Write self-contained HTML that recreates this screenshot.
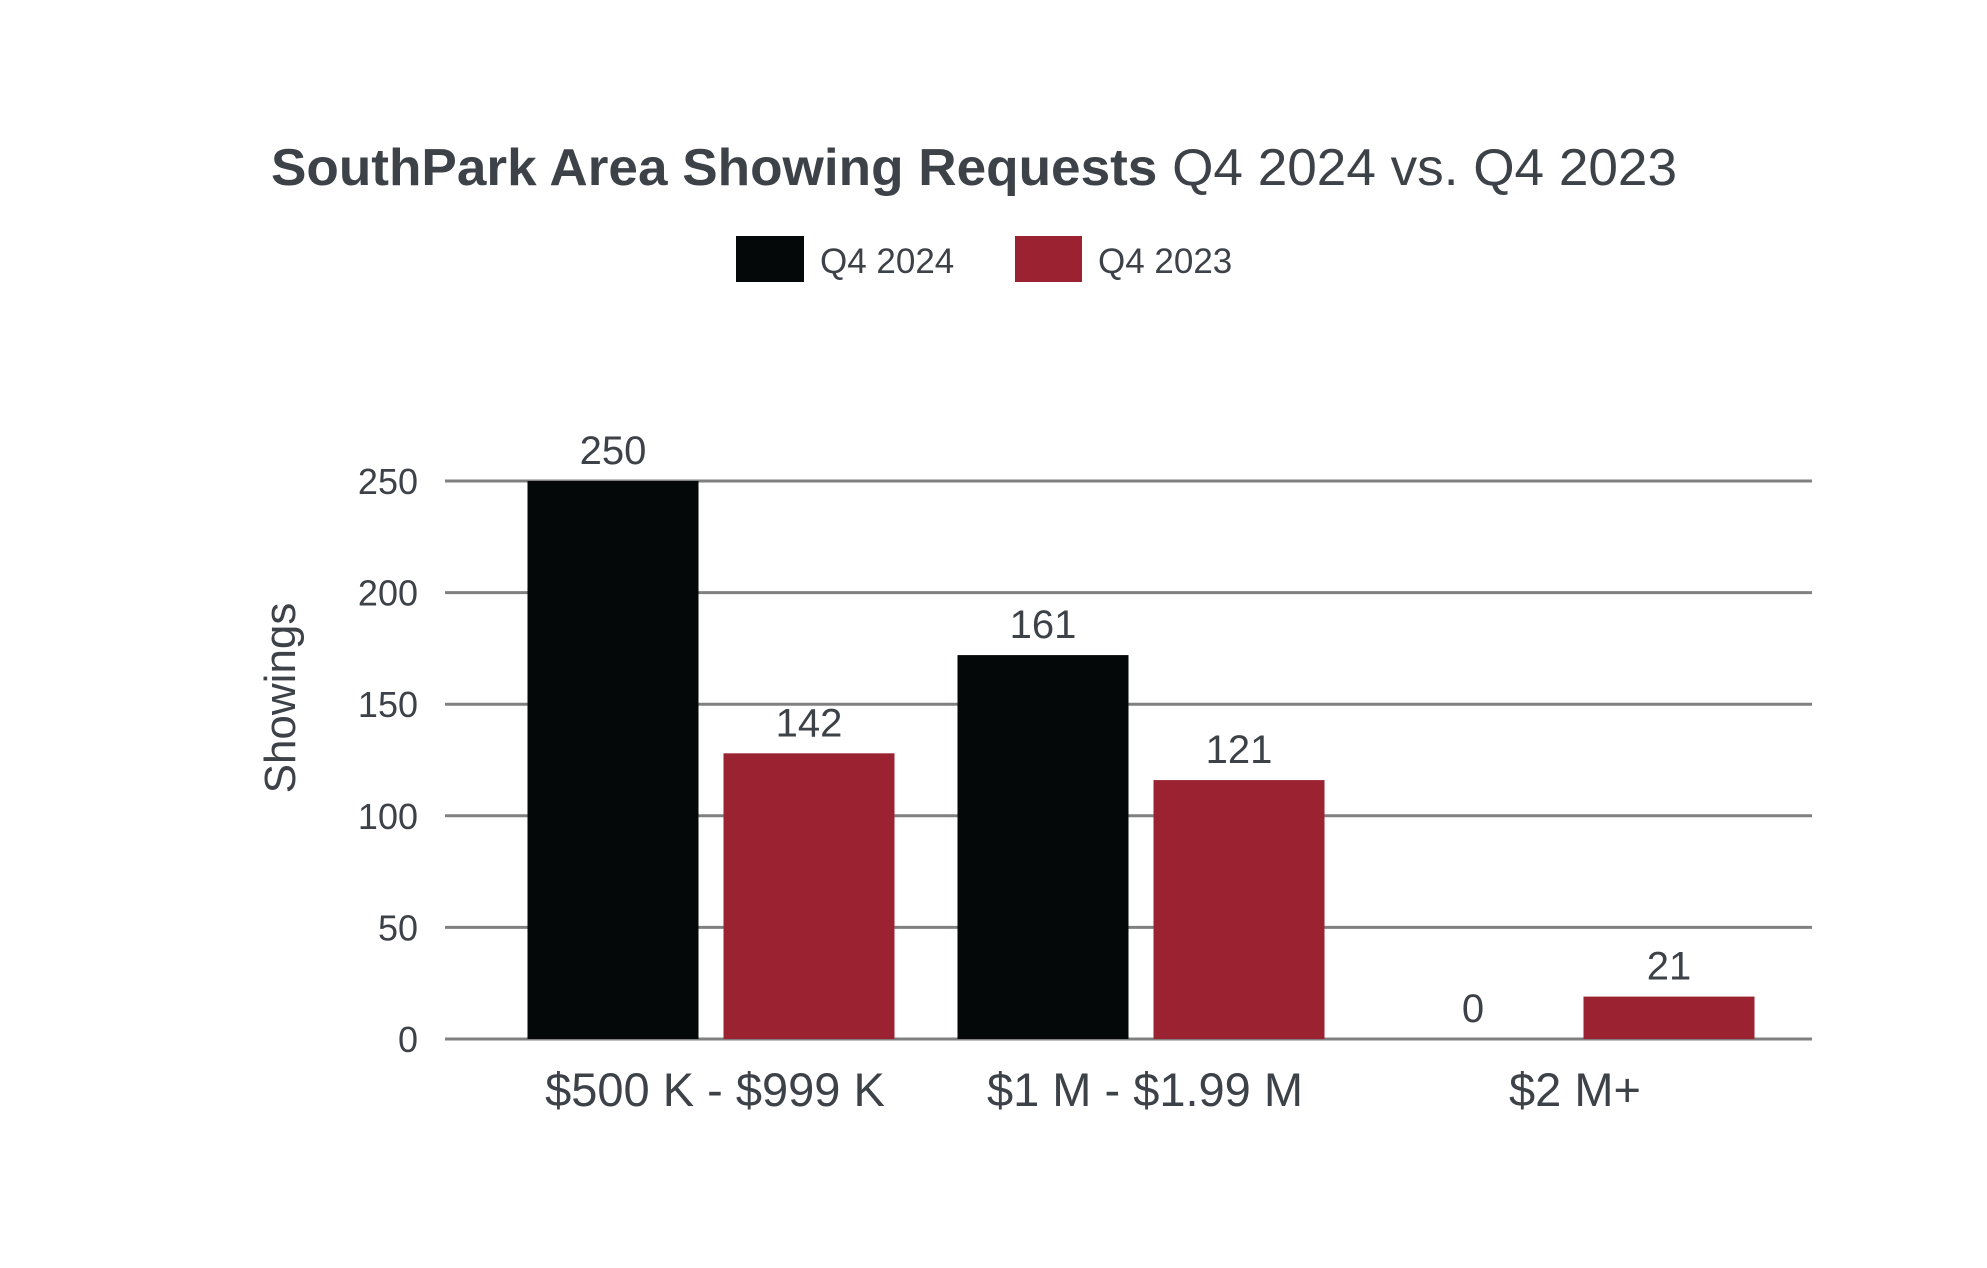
<!DOCTYPE html>
<html><head><meta charset="utf-8"><style>
html,body{margin:0;padding:0;background:#fff;}
svg{display:block;font-family:"Liberation Sans",sans-serif;}
</style></head><body>
<svg id="chart" width="1987" height="1268" viewBox="0 0 1987 1268" xmlns="http://www.w3.org/2000/svg">
<text x="271" y="185" font-size="52" fill="#3d4249" textLength="1406" lengthAdjust="spacingAndGlyphs"><tspan font-weight="bold">SouthPark Area Showing Requests</tspan> Q4 2024 vs. Q4 2023</text>
<g>
<rect x="736" y="236" width="68" height="46" fill="#040808"/>
<text x="820" y="273" font-size="35" fill="#3d4249">Q4 2024</text>
<rect x="1015" y="236" width="67" height="46" fill="#9b2231"/>
<text x="1098" y="273" font-size="35" fill="#3d4249">Q4 2023</text>
</g>
<text transform="translate(295,698) rotate(-90)" text-anchor="middle" font-size="44" fill="#3d4249">Showings</text>
<g id="grid"></g><g id="bars"></g><g id="labels"></g>
</svg>
<script>
const categories = ["$500 K - $999 K", "$1 M - $1.99 M", "$2 M+"];
const seriesNames = ["Q4 2024", "Q4 2023"];
const barQ42024 = [250, 172, 0];
const barQ42023 = [128, 116, 19];
const labelQ42024 = ["250", "161", "0"];
const labelQ42023 = ["142", "121", "21"];
const yTicks = [0, 50, 100, 150, 200, 250];

const NS = "http://www.w3.org/2000/svg";
const y0 = 1039, y250 = 481;
function yScale(v){ return y0 - (v/250)*(y0-y250); }
function xCenter(i){ return 711 + i*430; }
const barW = 171, off = 98;
const colors = ["#040808", "#9b2231"];
function mk(tag, attrs, parent){
  const e = document.createElementNS(NS, tag);
  for (const k in attrs) e.setAttribute(k, attrs[k]);
  parent.appendChild(e); return e;
}
const grid = document.getElementById("grid");
const bars = document.getElementById("bars");
const labels = document.getElementById("labels");
yTicks.forEach(t => {
  const y = yScale(t);
  const l = mk("line", {x1:445, x2:1812, y1:y, y2:y, stroke:"#808080", "stroke-width":3}, grid);
  
  
  const tx = mk("text", {x:418, y:y+13, "text-anchor":"end", "font-size":36, fill:"#3d4249"}, grid);
  
  
  tx.textContent = t;
});
const series = [barQ42024, barQ42023];
const seriesLabels = [labelQ42024, labelQ42023];
categories.forEach((c, i) => {
  series.forEach((s, j) => {
    const cx = xCenter(i) + (j === 0 ? -off : off);
    const v = s[i];
    const top = yScale(v);
    if (v > 0) {
      const r = mk("rect", {x:cx-barW/2, y:top, width:barW, height:y0-top, fill:colors[j]}, bars);
      
      
    }
    const lt = mk("text", {x:cx, y:top-17, "text-anchor":"middle", "font-size":40, fill:"#3d4249"}, labels);
    
    
    lt.textContent = seriesLabels[j][i];
  });
  const ct = mk("text", {x:xCenter(i)+4, y:1106, "text-anchor":"middle", "font-size":47, fill:"#3d4249"}, labels);
  
  
  ct.textContent = c;
});
</script>
</body></html>
